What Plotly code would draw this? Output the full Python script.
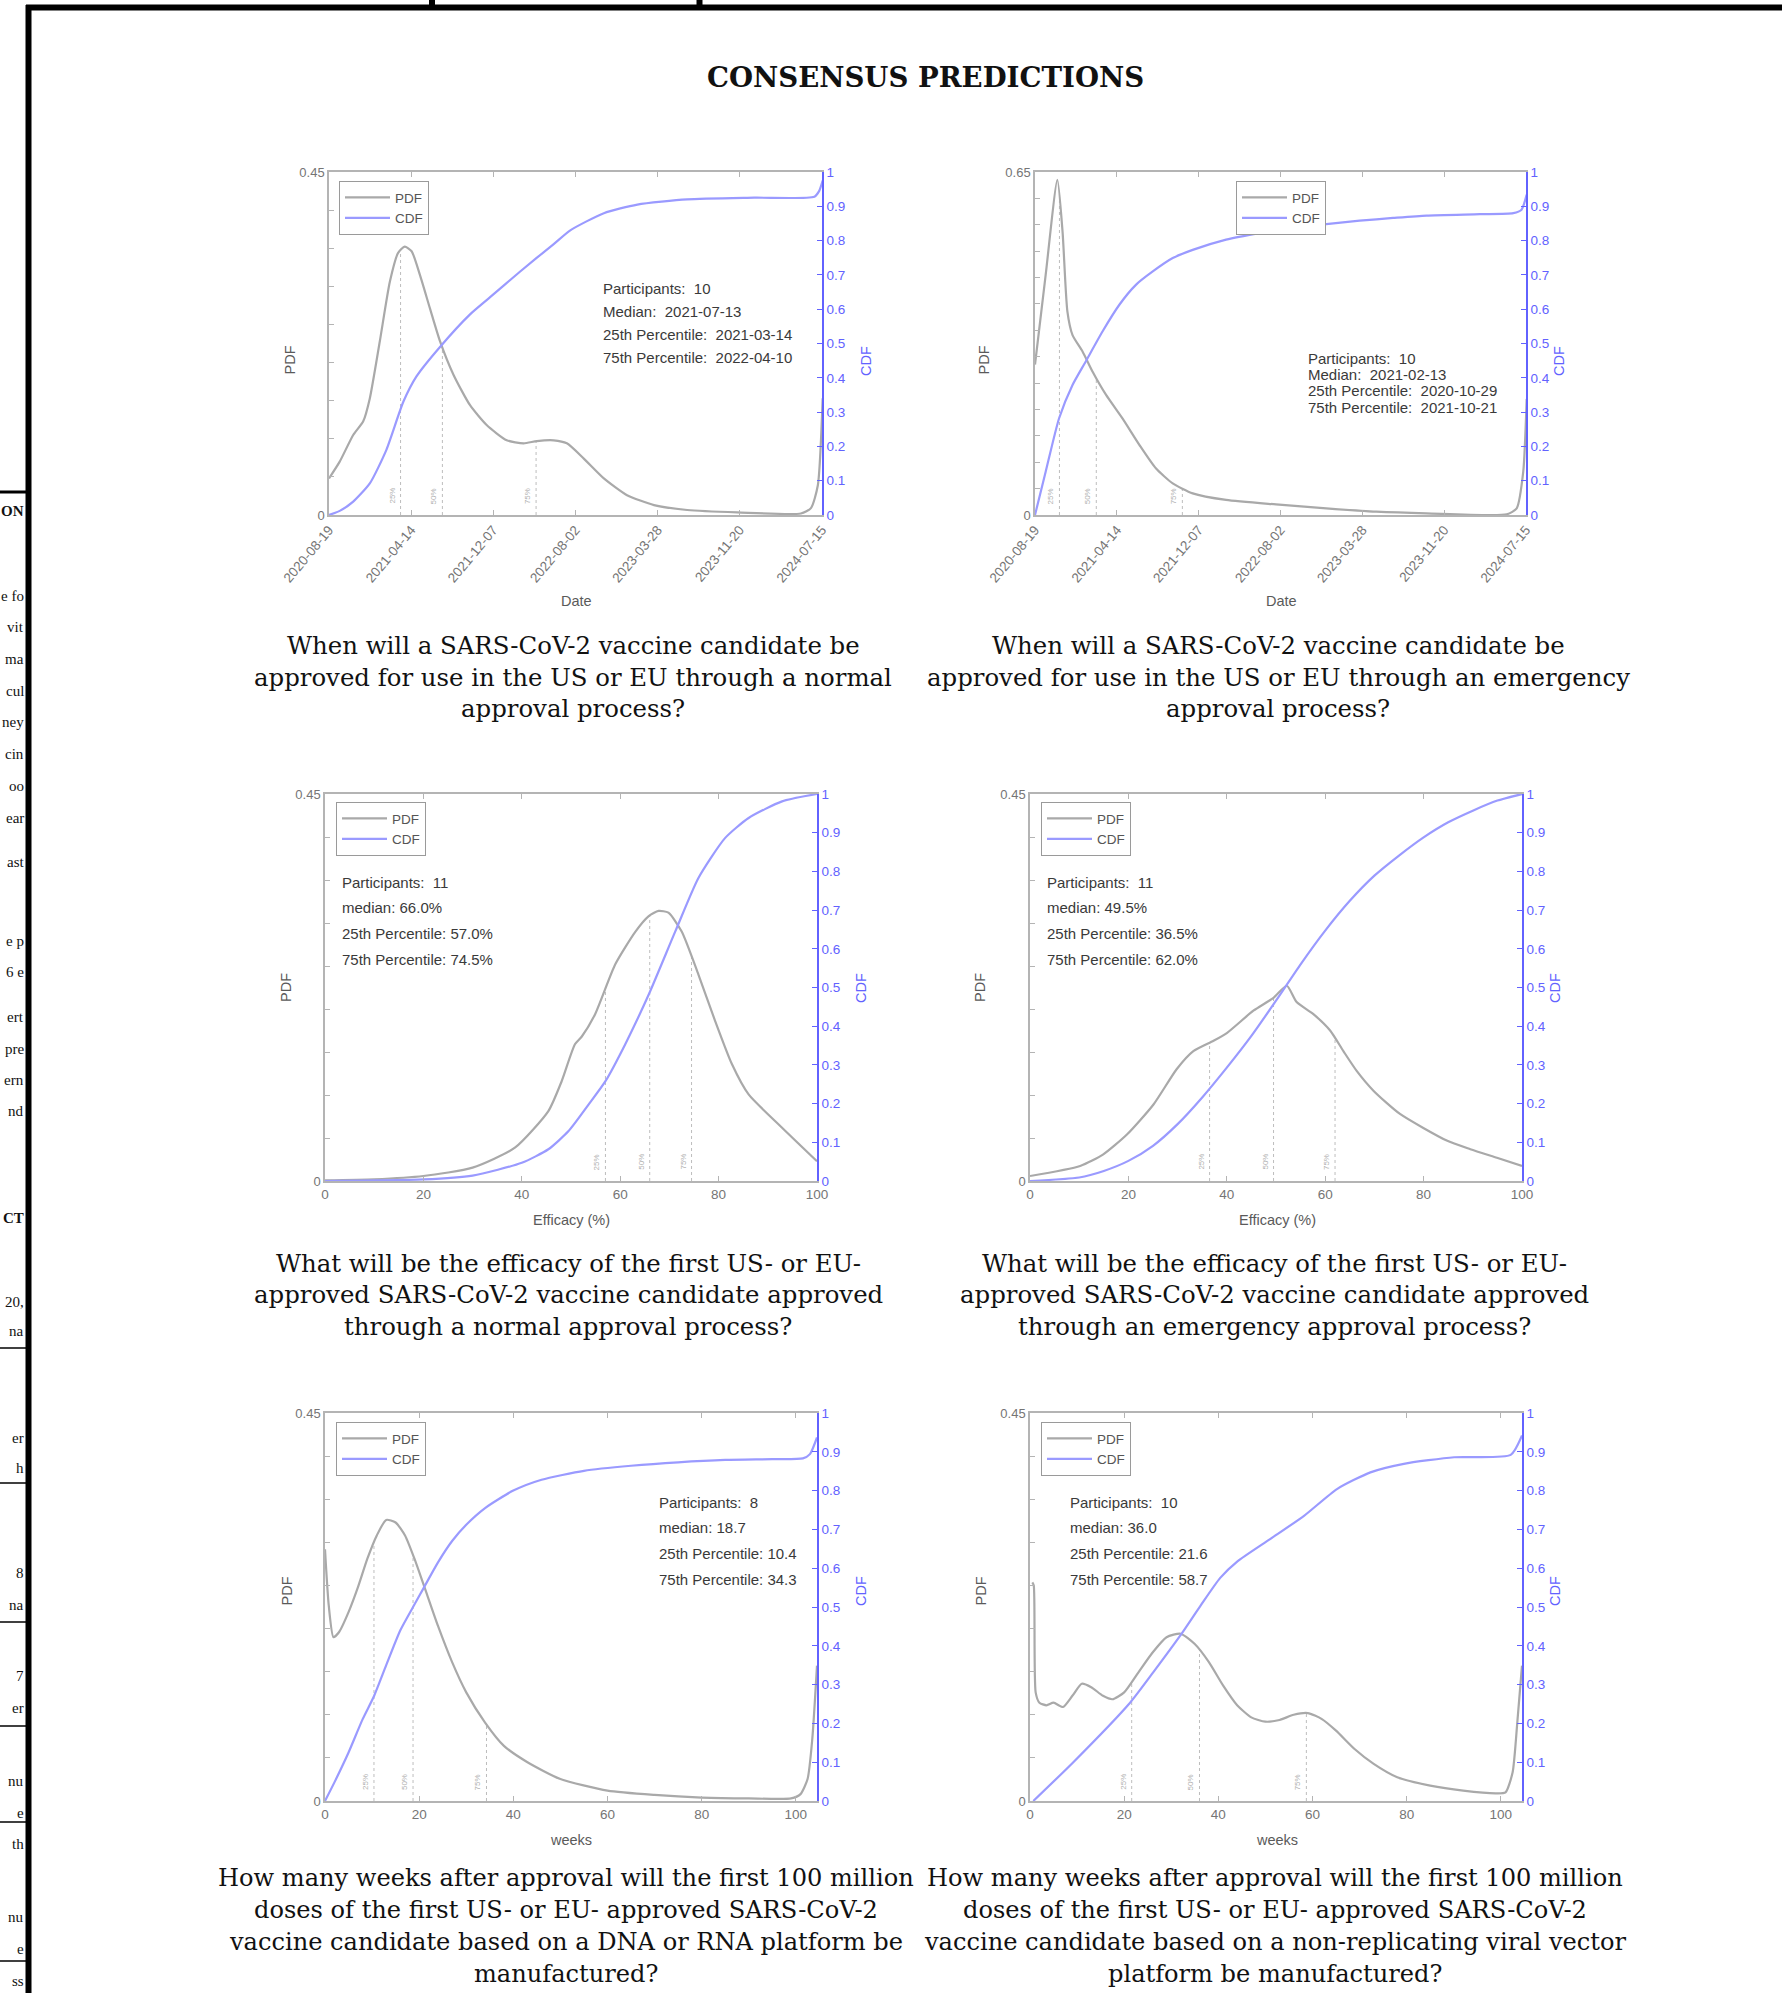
import numpy as np
import pandas as pd
import plotly.graph_objects as go

W, H = 1782, 1993

# ------------------------------------------------------------------ data
DATE0 = "2020-08-19"          # left end of the date axes (charts 1-2)
DATE1 = "2024-07-15"          # right end of the date axes
date_tick_labels = ["2020-08-19", "2021-04-14", "2021-12-07", "2022-08-02",
                    "2023-03-28", "2023-11-20", "2024-07-15"]

# chart 1 : normal approval date (x = days after 2020-08-19)
c1_pdf_days = [0, 31, 70, 99, 118, 147, 176, 200, 219, 239, 263, 292, 321, 360, 408,
               456, 514, 563, 601, 650, 688, 737, 795, 862, 940, 1036, 1181, 1365,
               1394, 1414, 1428]
c1_pdf = [0.048, 0.070, 0.105, 0.123, 0.153, 0.228, 0.306, 0.344, 0.352, 0.346, 0.315,
          0.271, 0.228, 0.184, 0.144, 0.118, 0.098, 0.094, 0.097, 0.098, 0.094, 0.074,
          0.048, 0.026, 0.013, 0.0066, 0.0035, 0.002, 0.009, 0.039, 0.153]
c1_cdf_days = [0, 31, 70, 118, 166, 215, 253, 321, 408, 466, 553, 650, 698, 795, 892,
               1036, 1230, 1404, 1418, 1428]
c1_cdf = [0, 0.012, 0.039, 0.092, 0.19, 0.33, 0.404, 0.49, 0.585, 0.635, 0.71, 0.79,
          0.83, 0.88, 0.905, 0.92, 0.925, 0.928, 0.945, 0.975]
c1_pct = ["2021-03-14", "2021-07-13", "2022-04-10"]
c1_stats = ["Participants:  10", "Median:  2021-07-13",
            "25th Percentile:  2021-03-14", "75th Percentile:  2022-04-10"]

# chart 2 : emergency approval date
c2_pdf_days = [0, 31, 65, 80, 94, 109, 138, 167, 206, 254, 303, 351, 400, 458, 555, 700,
               846, 991, 1137, 1370, 1399, 1418, 1428]
c2_pdf = [0.285, 0.455, 0.635, 0.537, 0.386, 0.341, 0.31, 0.272, 0.228, 0.183, 0.133,
          0.0885, 0.060, 0.041, 0.0285, 0.020, 0.0126, 0.0063, 0.0032, 0.0013, 0.0126,
          0.082, 0.22]
c2_cdf_days = [0, 31, 70, 109, 147, 196, 245, 293, 342, 400, 458, 555, 652, 749, 846,
               943, 1040, 1137, 1292, 1389, 1413, 1428]
c2_cdf = [0, 0.126, 0.282, 0.379, 0.447, 0.535, 0.613, 0.671, 0.710, 0.749, 0.773,
          0.803, 0.822, 0.837, 0.848, 0.858, 0.866, 0.873, 0.877, 0.880, 0.89, 0.934]
c2_pct = ["2020-10-29", "2021-02-13", "2021-10-21"]
c2_stats = ["Participants:  10", "Median:  2021-02-13",
            "25th Percentile:  2020-10-29", "75th Percentile:  2021-10-21"]

# chart 3 : efficacy, normal approval
c3_x = [0, 10, 20, 30, 38.6, 45.4, 48.1, 50.8, 52.2, 54.9, 59, 63.1, 65.8, 67.8, 69.8,
        72.5, 75.9, 79.3, 82.7, 86.1, 92.9, 100]
c3_pdf = [0.0008, 0.002, 0.0058, 0.0155, 0.0387, 0.0813, 0.116, 0.159, 0.168, 0.194,
          0.252, 0.290, 0.308, 0.314, 0.312, 0.290, 0.240, 0.186, 0.136, 0.1007, 0.062,
          0.023]
c3_cdf_x = [0, 20, 30, 40, 45.4, 49.5, 53.6, 57, 61, 65.8, 71.2, 75.9, 81.3, 86.1, 92.9, 100]
c3_cdf = [0, 0.004, 0.014, 0.047, 0.082, 0.129, 0.198, 0.258, 0.353, 0.482, 0.645,
          0.783, 0.886, 0.938, 0.981, 1.0]
c3_pct = [57.0, 66.0, 74.5]
c3_stats = ["Participants:  11", "median: 66.0%",
            "25th Percentile: 57.0%", "75th Percentile: 74.5%"]

# chart 4 : efficacy, emergency approval
c4_x = [0, 10.2, 14.9, 19.7, 25.1, 29.8, 33.2, 37.3, 40, 45.4, 49.5, 52.2, 54.2, 57.6,
        61, 63.7, 66.4, 69.8, 75.2, 84.7, 89.5, 94.9, 100]
c4_pdf = [0.0058, 0.0175, 0.031, 0.054, 0.089, 0.130, 0.151, 0.163, 0.172, 0.198, 0.213,
          0.227, 0.208, 0.194, 0.175, 0.151, 0.128, 0.105, 0.078, 0.047, 0.037, 0.027,
          0.0175]
c4_cdf_x = [0, 10, 15, 20, 25, 30, 35, 40, 45, 50, 55, 60, 65, 70, 75, 80, 85, 90, 95, 100]
c4_cdf = [0, 0.009, 0.026, 0.052, 0.091, 0.147, 0.216, 0.293, 0.375, 0.466, 0.560, 0.647,
          0.724, 0.789, 0.841, 0.888, 0.927, 0.957, 0.983, 1.0]
c4_pct = [36.5, 49.5, 62.0]
c4_stats = ["Participants:  11", "median: 49.5%",
            "25th Percentile: 36.5%", "75th Percentile: 62.0%"]

# chart 5 : weeks to 100M doses, DNA/RNA platform
c5_x = [0, 0.8, 1.8, 3, 5, 7, 9, 11, 13, 15, 17, 19, 21, 24, 27, 30, 34, 38, 43, 50, 60,
        70, 80, 90, 99, 101, 102.5, 103.5, 104.5]
c5_pdf = [0.292, 0.2265, 0.19, 0.196, 0.219, 0.248, 0.281, 0.308, 0.326, 0.323, 0.308,
          0.281, 0.250, 0.203, 0.161, 0.126, 0.091, 0.064, 0.045, 0.0255, 0.012, 0.007,
          0.004, 0.003, 0.003, 0.008, 0.0255, 0.072, 0.157]
c5_cdf_x = [0, 2, 5, 8, 10.4, 13, 16, 18.7, 21, 24, 27, 30, 34, 40, 46, 55, 65, 75, 85,
            95, 101.5, 103, 104.5]
c5_cdf = [0, 0.048, 0.125, 0.211, 0.27, 0.35, 0.44, 0.50, 0.55, 0.615, 0.67, 0.712,
          0.755, 0.80, 0.828, 0.851, 0.864, 0.873, 0.879, 0.881, 0.883, 0.894, 0.937]
c5_pct = [10.4, 18.7, 34.3]
c5_stats = ["Participants:  8", "median: 18.7",
            "25th Percentile: 10.4", "75th Percentile: 34.3"]

# chart 6 : weeks to 100M doses, non-replicating viral vector platform
c6_x = [0.5, 0.8, 1.2, 2, 3.5, 5, 7, 9, 11, 13, 15.5, 17.5, 20, 23, 26, 29, 32, 35, 38,
        41, 44, 47, 50, 53, 56, 59, 62, 65, 69, 73, 78, 85, 92, 99, 101, 102.5, 103.5,
        104.5]
c6_pdf = [0.2536, 0.25, 0.126, 0.114, 0.111, 0.114, 0.109, 0.122, 0.136, 0.132, 0.122,
          0.118, 0.126, 0.149, 0.172, 0.19, 0.194, 0.182, 0.161, 0.134, 0.111, 0.097,
          0.092, 0.094, 0.10, 0.102, 0.095, 0.0816, 0.060, 0.043, 0.0275, 0.0178, 0.012,
          0.0089, 0.01, 0.033, 0.091, 0.157]
c6_cdf_x = [0.7, 9.2, 21.3, 26.2, 31.9, 36.2, 40.4, 44, 51, 58.2, 65.2, 72.3, 79.4, 90.1,
            102.1, 104.5]
c6_cdf = [0, 0.1, 0.254, 0.332, 0.426, 0.503, 0.575, 0.617, 0.675, 0.735, 0.804, 0.847,
          0.869, 0.886, 0.892, 0.942]
c6_pct = [21.6, 36.0, 58.7]
c6_stats = ["Participants:  10", "median: 36.0",
            "25th Percentile: 21.6", "75th Percentile: 58.7"]

pct_labels = ["25%", "50%", "75%"]
pdf_max = [0.45, 0.65, 0.45, 0.45, 0.45, 0.45]
week_ticks = [0, 20, 40, 60, 80, 100]
eff_ticks = [0, 20, 40, 60, 80, 100]
cdf_ticks = [0, 0.1, 0.2, 0.3, 0.4, 0.5, 0.6, 0.7, 0.8, 0.9, 1]

x_titles = ["Date", "Date", "Efficacy (%)", "Efficacy (%)", "weeks", "weeks"]

captions = [
    ["When will a SARS-CoV-2 vaccine candidate be",
     "approved for use in the US or EU through a normal",
     "approval process?"],
    ["When will a SARS-CoV-2 vaccine candidate be",
     "approved for use in the US or EU through an emergency",
     "approval process?"],
    ["What will be the efficacy of the first US- or EU-",
     "approved SARS-CoV-2 vaccine candidate approved",
     "through a normal approval process?"],
    ["What will be the efficacy of the first US- or EU-",
     "approved SARS-CoV-2 vaccine candidate approved",
     "through an emergency approval process?"],
    ["How many weeks after approval will the first 100 million",
     "doses of the first US- or EU- approved SARS-CoV-2",
     "vaccine candidate based on a DNA or RNA platform be",
     "manufactured?"],
    ["How many weeks after approval will the first 100 million",
     "doses of the first US- or EU- approved SARS-CoV-2",
     "vaccine candidate based on a non-replicating viral vector",
     "platform be manufactured?"],
]
main_title = "CONSENSUS PREDICTIONS"

# fragments of the neighbouring page visible at the left edge
edge_text = [(511, "ON", True), (596, "e fo", False), (627, "vit", False),
             (659, "ma", False), (691, "cul", False), (722, "ney", False),
             (754, "cin", False), (786, "oo", False), (818, "ear", False),
             (862, "ast", False), (941, "e p", False), (972, "6 e", False),
             (1017, "ert", False), (1049, "pre", False), (1080, "ern", False),
             (1111, "nd", False), (1218, "CT", True), (1302, "20,", False),
             (1331, "na", False), (1438, "er", False), (1468, "h", False),
             (1573, "8", False), (1605, "na", False), (1676, "7", False),
             (1708, "er", False), (1781, "nu", False), (1813, "e", False),
             (1844, "th", False), (1917, "nu", False), (1949, "e", False),
             (1981, "ss", False)]
edge_rules = [1348, 1483, 1622, 1726, 1822, 1961]

# ------------------------------------------------------------------ helpers
def to_dates(days):
    return pd.Timestamp(DATE0) + pd.to_timedelta(np.asarray(days, float), unit="D")

def date_to_day(s):
    return (pd.Timestamp(s) - pd.Timestamp(DATE0)).days

def px(x):
    return x / W

def py(y):
    return 1 - y / H

charts = [
    dict(kind="date", px_=c1_pdf_days, pdf=c1_pdf, cx=c1_cdf_days, cdf=c1_cdf, pct=c1_pct, stats=c1_stats),
    dict(kind="date", px_=c2_pdf_days, pdf=c2_pdf, cx=c2_cdf_days, cdf=c2_cdf, pct=c2_pct, stats=c2_stats),
    dict(kind="eff", px_=c3_x, pdf=c3_pdf, cx=c3_cdf_x, cdf=c3_cdf, pct=c3_pct, stats=c3_stats),
    dict(kind="eff", px_=c4_x, pdf=c4_pdf, cx=c4_cdf_x, cdf=c4_cdf, pct=c4_pct, stats=c4_stats),
    dict(kind="week", px_=c5_x, pdf=c5_pdf, cx=c5_cdf_x, cdf=c5_cdf, pct=c5_pct, stats=c5_stats),
    dict(kind="week", px_=c6_x, pdf=c6_pdf, cx=c6_cdf_x, cdf=c6_cdf, pct=c6_pct, stats=c6_stats),
]

# ------------------------------------------------------------------ layout geometry (px)
boxes = [(329, 172, 822, 515), (1035, 172, 1526, 515),
         (325, 794, 817, 1181), (1030, 794, 1522, 1181),
         (325, 1413, 817, 1801), (1030, 1413, 1522, 1801)]
legend_pos = [(339, 181), (1236, 181), (336, 802), (1041, 802), (336, 1422), (1041, 1422)]
stats_pos = [(601, 288, 23.3), (1306, 358, 16.4), (340, 882, 25.9), (1045, 882, 25.9),
             (657, 1502, 25.9), (1068, 1502, 25.9)]
pdf_title_pos = [(280, 344), (984, 344), (276, 988), (980, 988), (276, 1608), (980, 1608)]
cdf_title_pos = [(866, 344), (1569, 344), (861, 988), (1565, 988), (861, 1608), (1565, 1608)]
xtitle_pos = [(576, 601), (1281, 601), (571, 1220), (1277, 1220), (571, 1840), (1277, 1840)]
caption_pos = [(573, [645, 677, 708]), (1278, [645, 677, 708]),
               (568, [1263, 1294, 1326]), (1274, [1263, 1294, 1326]),
               (566, [1878, 1910, 1942, 1974]), (1275, [1878, 1910, 1942, 1974])]
caption_size = [24.4, 24.4, 24.4, 24.4, 24.1, 24.1]

GRAY_LINE = "#a9a9a9"
BLUE_LINE = "#9a9aff"
AXIS_GRAY = "#b4b4b4"
AXIS_BLUE = "#6262ff"
TICK_GRAY = "#757575"
SANS = "Liberation Sans, Arial, sans-serif"
SERIF = "DejaVu Serif, serif"

fig = go.Figure()
layout = dict(width=W, height=H, margin=dict(l=0, r=0, t=0, b=0, pad=0, autoexpand=False),
              paper_bgcolor="white", plot_bgcolor="white", showlegend=True)
annotations = []
shapes = []

for i, ch in enumerate(charts, start=1):
    xa = "x" if i == 1 else f"x{i}"
    ya = "y" if i == 1 else f"y{i}"
    ya2 = f"y{i + 6}"
    leg = "legend" if i == 1 else f"legend{i}"
    l, t, r, b = boxes[i - 1]

    if ch["kind"] == "date":
        xp = to_dates(ch["px_"])
        xc = to_dates(ch["cx"])
        pct_x = list(ch["pct"])
        pct_h = [float(np.interp(date_to_day(p), ch["px_"], ch["pdf"])) for p in ch["pct"]]
    else:
        xp = ch["px_"]
        xc = ch["cx"]
        pct_x = list(ch["pct"])
        pct_h = [float(np.interp(p, ch["px_"], ch["pdf"])) for p in ch["pct"]]

    # percentile markers (dotted verticals up to the pdf)
    for k in range(3):
        fig.add_trace(go.Scatter(x=[pct_x[k], pct_x[k]], y=[0, pct_h[k]], mode="lines",
                                 line=dict(color="#bdbdbd", width=1, dash="dot"),
                                 xaxis=xa, yaxis=ya, showlegend=False, hoverinfo="skip"))
        annotations.append(dict(x=pct_x[k], y=0, xref=xa, yref=ya, text=pct_labels[k],
                                showarrow=False, textangle=-90, xshift=-9, yshift=19,
                                font=dict(family=SANS, size=8, color="#b0b0b0")))

    fig.add_trace(go.Scatter(x=xp, y=ch["pdf"], mode="lines", name="PDF",
                             line=dict(color=GRAY_LINE, width=2.2, shape="spline", smoothing=0.6),
                             xaxis=xa, yaxis=ya, legend=leg))
    fig.add_trace(go.Scatter(x=xc, y=ch["cdf"], mode="lines", name="CDF",
                             line=dict(color=BLUE_LINE, width=2.2, shape="spline", smoothing=0.6),
                             xaxis=xa, yaxis=ya2, legend=leg))

    # axes
    xdom = [px(l), px(r)]
    ydom = [py(b), py(t)]
    xax = dict(domain=xdom, anchor=ya, showline=True, linecolor=AXIS_GRAY, linewidth=1.5,
               mirror="ticks", ticks="inside", ticklen=5, tickcolor=AXIS_GRAY,
               showgrid=False, zeroline=False, automargin=False,
               tickfont=dict(family=SANS, size=13.5, color=TICK_GRAY))
    if ch["kind"] == "date":
        xax.update(type="date", range=[DATE0, DATE1], tickvals=date_tick_labels,
                   ticktext=date_tick_labels, tickangle=-50)
    elif ch["kind"] == "eff":
        xax.update(range=[0, 100], tickvals=eff_ticks, ticktext=[str(v) for v in eff_ticks])
    else:
        xax.update(range=[0, 104.5], tickvals=week_ticks, ticktext=[str(v) for v in week_ticks])
    layout["xaxis" if i == 1 else f"xaxis{i}"] = xax

    m = pdf_max[i - 1]
    yt = [round(v, 2) for v in np.arange(0, m + 1e-9, 0.05)]
    ytt = ["0" if v == 0 else (f"{m:g}" if abs(v - m) < 1e-9 else "") for v in yt]
    layout["yaxis" if i == 1 else f"yaxis{i}"] = dict(
        domain=ydom, anchor=xa, range=[0, m], showline=True, linecolor=AXIS_GRAY,
        linewidth=1.5, ticks="inside", ticklen=5, tickcolor=AXIS_GRAY, tickvals=yt,
        ticktext=ytt, showgrid=False, zeroline=False, automargin=False,
        tickfont=dict(family=SANS, size=13, color=TICK_GRAY))
    layout[f"yaxis{i + 6}"] = dict(
        domain=ydom, anchor=xa, overlaying=ya, side="right", range=[0, 1],
        showline=True, linecolor=AXIS_BLUE, linewidth=1.5, ticks="inside", ticklen=5,
        tickcolor=AXIS_BLUE, tickvals=cdf_ticks, ticktext=[f"{v:g}" for v in cdf_ticks],
        showgrid=False, zeroline=False, automargin=False,
        tickfont=dict(family=SANS, size=13.5, color=AXIS_BLUE))

    # legend
    lx, ly = legend_pos[i - 1]
    layout[leg] = dict(x=px(lx), y=py(ly), xanchor="left", yanchor="top",
                       bgcolor="white", bordercolor="#9a9a9a", borderwidth=1,
                       font=dict(family=SANS, size=13.5, color="#555555"),
                       tracegroupgap=0, itemwidth=45)

    # stats text
    sx, sy, sp = stats_pos[i - 1]
    for k, line in enumerate(ch["stats"]):
        annotations.append(dict(x=px(sx), y=py(sy + k * sp), xref="paper", yref="paper",
                                text=line.replace("  ", "\u00a0\u00a0"), showarrow=False,
                                xanchor="left", yanchor="middle",
                                font=dict(family=SANS, size=15, color="#3a3a3a")))

    # axis titles
    annotations.append(dict(x=px(pdf_title_pos[i - 1][0]), y=py(pdf_title_pos[i - 1][1]),
                            xref="paper", yref="paper", text="PDF", textangle=-90,
                            showarrow=False, font=dict(family=SANS, size=14.5, color="#5a5a5a")))
    annotations.append(dict(x=px(cdf_title_pos[i - 1][0]), y=py(cdf_title_pos[i - 1][1]),
                            xref="paper", yref="paper", text="CDF", textangle=-90,
                            showarrow=False, font=dict(family=SANS, size=14.5, color=AXIS_BLUE)))
    annotations.append(dict(x=px(xtitle_pos[i - 1][0]), y=py(xtitle_pos[i - 1][1]),
                            xref="paper", yref="paper", text=x_titles[i - 1],
                            xanchor="center", yanchor="middle",
                            showarrow=False, font=dict(family=SANS, size=14.5, color="#5a5a5a")))

    # caption
    cx, cys = caption_pos[i - 1]
    for line, cy in zip(captions[i - 1], cys):
        annotations.append(dict(x=px(cx), y=py(cy), xref="paper", yref="paper", text=line,
                                showarrow=False, xanchor="center", yanchor="middle",
                                font=dict(family=SERIF, size=caption_size[i - 1], color="#111111")))

# main title
annotations.append(dict(x=px(925), y=py(78), xref="paper", yref="paper", text=f"<b>{main_title}</b>",
                        showarrow=False, xanchor="center", yanchor="middle",
                        font=dict(family=SERIF, size=27.6, color="#111111")))

# left-edge fragments of the adjacent page (kept small enough to fit left of the frame)
for yy, txt, bold in edge_text:
    annotations.append(dict(x=px(25), y=py(yy), xref="paper", yref="paper",
                            text=f"<b>{txt}</b>" if bold else txt, showarrow=False,
                            xanchor="right", yanchor="middle", borderpad=0,
                            font=dict(family="Liberation Serif, serif", size=15, color="#111111")))

# page frame
frame = dict(type="line", xref="paper", yref="paper", line=dict(color="black", width=6), layer="above")
shapes.append({**frame, "x0": px(26), "x1": 1, "y0": py(7.5), "y1": py(7.5)})
shapes.append({**frame, "x0": px(28.5), "x1": px(28.5), "y0": py(5), "y1": 0})
shapes.append({**frame, "x0": px(432), "x1": px(432), "y0": 1, "y1": py(8)})
shapes.append({**frame, "x0": px(699.5), "x1": px(699.5), "y0": 1, "y1": py(8)})
shapes.append(dict(type="line", xref="paper", yref="paper", x0=0, x1=px(27), y0=py(492), y1=py(492),
                   line=dict(color="black", width=3)))
for yy in edge_rules:
    shapes.append(dict(type="line", xref="paper", yref="paper", x0=0, x1=px(27), y0=py(yy), y1=py(yy),
                       line=dict(color="black", width=1.5)))

layout["annotations"] = annotations
layout["shapes"] = shapes
fig.update_layout(**layout)

fig.write_html("out.html", config={"displayModeBar": False},
               post_script="document.body.style.margin='0px';document.body.style.overflow='hidden';")
